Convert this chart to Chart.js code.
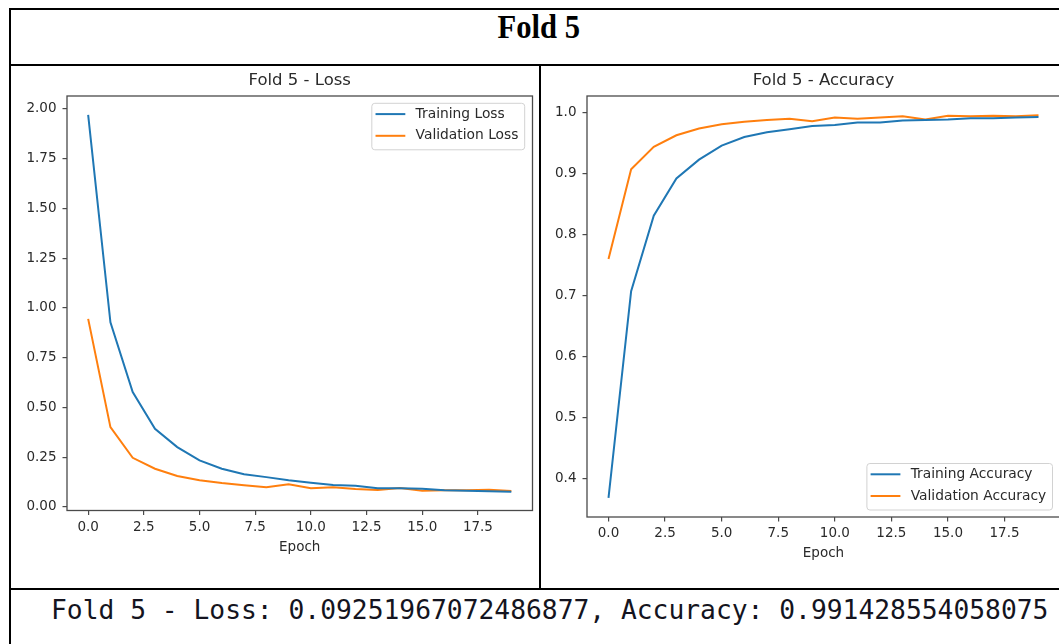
<!DOCTYPE html>
<html>
<head>
<meta charset="utf-8">
<title>Fold 5</title>
<script src="https://cdn.jsdelivr.net/npm/chart.js@4.4.1/dist/chart.umd.min.js"></script>
<style>
  html, body { margin: 0; padding: 0; background: #fff; width: 1059px; height: 644px; overflow: hidden; }
  .rule { position: absolute; background: #000; }
  #heading {
    position: absolute; left: 9px; top: 8px; width: 1059px; height: 40px; line-height: 40px;
    text-align: center; color: #000;
  }
  #heading span {
    display: inline-block; transform: scaleX(0.9);
    font: bold 34px "Liberation Serif", "Times New Roman", serif;
  }
  #summary {
    position: absolute; left: 51px; top: 595px; height: 30px; line-height: 30px; white-space: pre;
    font: 26.3px "DejaVu Sans Mono", monospace; color: #141420;
  }
  canvas { position: absolute; }
</style>
</head>
<body>
  <!-- table frame -->
  <div class="rule" style="left:9px;top:8px;width:1060px;height:2px"></div>
  <div class="rule" style="left:9px;top:8px;width:2px;height:640px"></div>
  <div class="rule" style="left:9px;top:64px;width:1060px;height:2px"></div>
  <div class="rule" style="left:539px;top:64px;width:2px;height:525px"></div>
  <div class="rule" style="left:9px;top:588px;width:1060px;height:2px"></div>

  <div id="heading"><span>Fold 5</span></div>
  <canvas id="lossChart" width="527" height="521" style="left:11px;top:66px"></canvas>
  <canvas id="accChart" width="534" height="521" style="left:541px;top:66px"></canvas>
  <div id="summary">Fold 5 - Loss: 0.09251967072486877, Accuracy: 0.991428554058075</div>

<script>
// Per-epoch history for fold 5
const epochs = [0, 1, 2, 3, 4, 5, 6, 7, 8, 9, 10, 11, 12, 13, 14, 15, 16, 17, 18, 19];
const trainLoss = [1.970, 0.928, 0.577, 0.393, 0.301, 0.234, 0.192, 0.164, 0.150, 0.134,
                   0.122, 0.110, 0.107, 0.094, 0.094, 0.092, 0.084, 0.082, 0.079, 0.077];
const valLoss   = [0.945, 0.401, 0.247, 0.192, 0.156, 0.134, 0.120, 0.109, 0.099, 0.114,
                   0.094, 0.099, 0.090, 0.085, 0.095, 0.082, 0.084, 0.084, 0.087, 0.080];
const trainAcc  = [0.368, 0.707, 0.831, 0.892, 0.923, 0.946, 0.960, 0.968, 0.973, 0.978,
                   0.980, 0.984, 0.984, 0.987, 0.988, 0.989, 0.991, 0.991, 0.992, 0.993];
const valAcc    = [0.760, 0.907, 0.944, 0.963, 0.974, 0.981, 0.985, 0.988, 0.990, 0.986,
                   0.992, 0.990, 0.992, 0.994, 0.989, 0.995, 0.994, 0.995, 0.994, 0.996];

// Tick labels
const epochTicks = [0, 2.5, 5, 7.5, 10, 12.5, 15, 17.5];
const lossTicks = [0, 0.25, 0.5, 0.75, 1.0, 1.25, 1.5, 1.75, 2.0];
const accTicks = [0.4, 0.5, 0.6, 0.7, 0.8, 0.9, 1.0];

const BLUE = '#1f77b4';
const ORANGE = '#ff7f0e';
const INK = '#2a2a2a';
const SPINE = '#4a4a4a';
const FONT = '"DejaVu Sans", sans-serif';

// 5% margin around the data range on each side
function padded(values) {
  const lo = Math.min(...values), hi = Math.max(...values);
  const m = (hi - lo) * 0.05;
  return [lo - m, hi + m];
}

function points(ys) {
  return epochs.map((x, i) => ({ x: x, y: ys[i] }));
}

// Axes frame and boxed legend drawn on top of the lines
const frameAndLegend = {
  id: 'frameAndLegend',
  afterDatasetsDraw(chart, args, opts) {
    const ctx = chart.ctx;
    const a = chart.chartArea;
    ctx.save();
    ctx.strokeStyle = SPINE;
    ctx.lineWidth = 1.3;
    ctx.strokeRect(a.left, a.top, a.right - a.left, a.bottom - a.top);

    const sets = chart.data.datasets;
    ctx.font = '13.8px ' + FONT;
    const textW = Math.max(...sets.map(d => ctx.measureText(d.label).width));
    const padL = 4.2, handle = 29.8, gap = 10.3, padR = 5.8, padT = 11.3, rowH = 21.7, boxH = 46.5;
    const boxW = padL + handle + gap + textW + padR;
    const bx = a.right - opts.dx - boxW;
    const by = opts.corner === 'upper' ? a.top + opts.dy : a.bottom - opts.dy - boxH;

    ctx.beginPath();
    ctx.roundRect(bx + 0.5, by + 0.5, boxW, boxH, 3);
    ctx.fillStyle = 'rgba(255,255,255,0.8)';
    ctx.fill();
    ctx.strokeStyle = '#d2d2d2';
    ctx.lineWidth = 1;
    ctx.stroke();

    ctx.textBaseline = 'middle';
    ctx.textAlign = 'left';
    sets.forEach((d, i) => {
      const cy = by + padT + i * rowH;
      ctx.beginPath();
      ctx.moveTo(bx + padL, cy);
      ctx.lineTo(bx + padL + handle, cy);
      ctx.strokeStyle = d.borderColor;
      ctx.lineWidth = 2;
      ctx.stroke();
      ctx.fillStyle = INK;
      ctx.fillText(d.label, bx + padL + handle + gap, cy);
    });
    ctx.restore();
  }
};

function makeChart(id, cfg) {
  const [xMin, xMax] = padded(epochs);
  const [yMin, yMax] = padded(cfg.series[0].data.concat(cfg.series[1].data));
  return new Chart(document.getElementById(id), {
    type: 'line',
    data: {
      datasets: cfg.series.map(s => ({
        label: s.label,
        data: points(s.data),
        borderColor: s.color,
        backgroundColor: s.color,
        borderWidth: 2,
        pointRadius: 0,
        tension: 0,
        fill: false
      }))
    },
    options: {
      responsive: false,
      maintainAspectRatio: false,
      animation: false,
      events: [],
      layout: { padding: { left: 0, top: 0, right: cfg.padRight, bottom: cfg.padBottom } },
      plugins: {
        legend: { display: false },
        tooltip: { enabled: false },
        title: {
          display: true,
          text: cfg.title,
          fullSize: false,
          color: INK,
          font: { family: FONT, size: 16.5, weight: 'normal' },
          padding: { top: 4.9, bottom: 5.3 }
        },
        frameAndLegend: cfg.legend
      },
      scales: {
        x: {
          type: 'linear',
          min: xMin,
          max: xMax,
          afterBuildTicks: s => { s.ticks = epochTicks.map(v => ({ value: v })); },
          afterFit: s => { s.height = 45; },
          grid: { drawOnChartArea: false, drawTicks: true, tickLength: 4.5, color: SPINE, lineWidth: 1.2 },
          border: { display: false },
          ticks: {
            color: INK, font: { family: FONT, size: 13.5 }, padding: 4.2, maxRotation: 0,
            autoSkip: false, callback: v => Number(v).toFixed(1)
          },
          title: {
            display: true, text: 'Epoch', color: INK,
            font: { family: FONT, size: 13.5 }, padding: { top: 0, bottom: cfg.titleBottom }
          }
        },
        y: {
          type: 'linear',
          min: yMin,
          max: yMax,
          afterBuildTicks: s => { s.ticks = cfg.yTicks.map(v => ({ value: v })); },
          afterFit: s => { s.width = cfg.yWidth; },
          grid: { drawOnChartArea: false, drawTicks: true, tickLength: 4.5, color: SPINE, lineWidth: 1.2 },
          border: { display: false },
          ticks: {
            color: INK, font: { family: FONT, size: 13.5 }, padding: 6,
            autoSkip: false, callback: v => Number(v).toFixed(cfg.yDigits)
          }
        }
      }
    },
    plugins: [frameAndLegend]
  });
}

makeChart('lossChart', {
  title: 'Fold 5 - Loss',
  series: [
    { label: 'Training Loss', data: trainLoss, color: BLUE },
    { label: 'Validation Loss', data: valLoss, color: ORANGE }
  ],
  yTicks: lossTicks, yDigits: 2, yWidth: 56,
  padRight: 5.5, padBottom: 31.5, titleBottom: 0.2,
  legend: { corner: 'upper', dx: 8.3, dy: 6.8 }
});

makeChart('accChart', {
  title: 'Fold 5 - Accuracy',
  series: [
    { label: 'Training Accuracy', data: trainAcc, color: BLUE },
    { label: 'Validation Accuracy', data: valAcc, color: ORANGE }
  ],
  yTicks: accTicks, yDigits: 1, yWidth: 46,
  padRight: 15, padBottom: 25, titleBottom: 0,
  legend: { corner: 'lower', dx: 8, dy: 7.5 }
});
</script>
</body>
</html>
